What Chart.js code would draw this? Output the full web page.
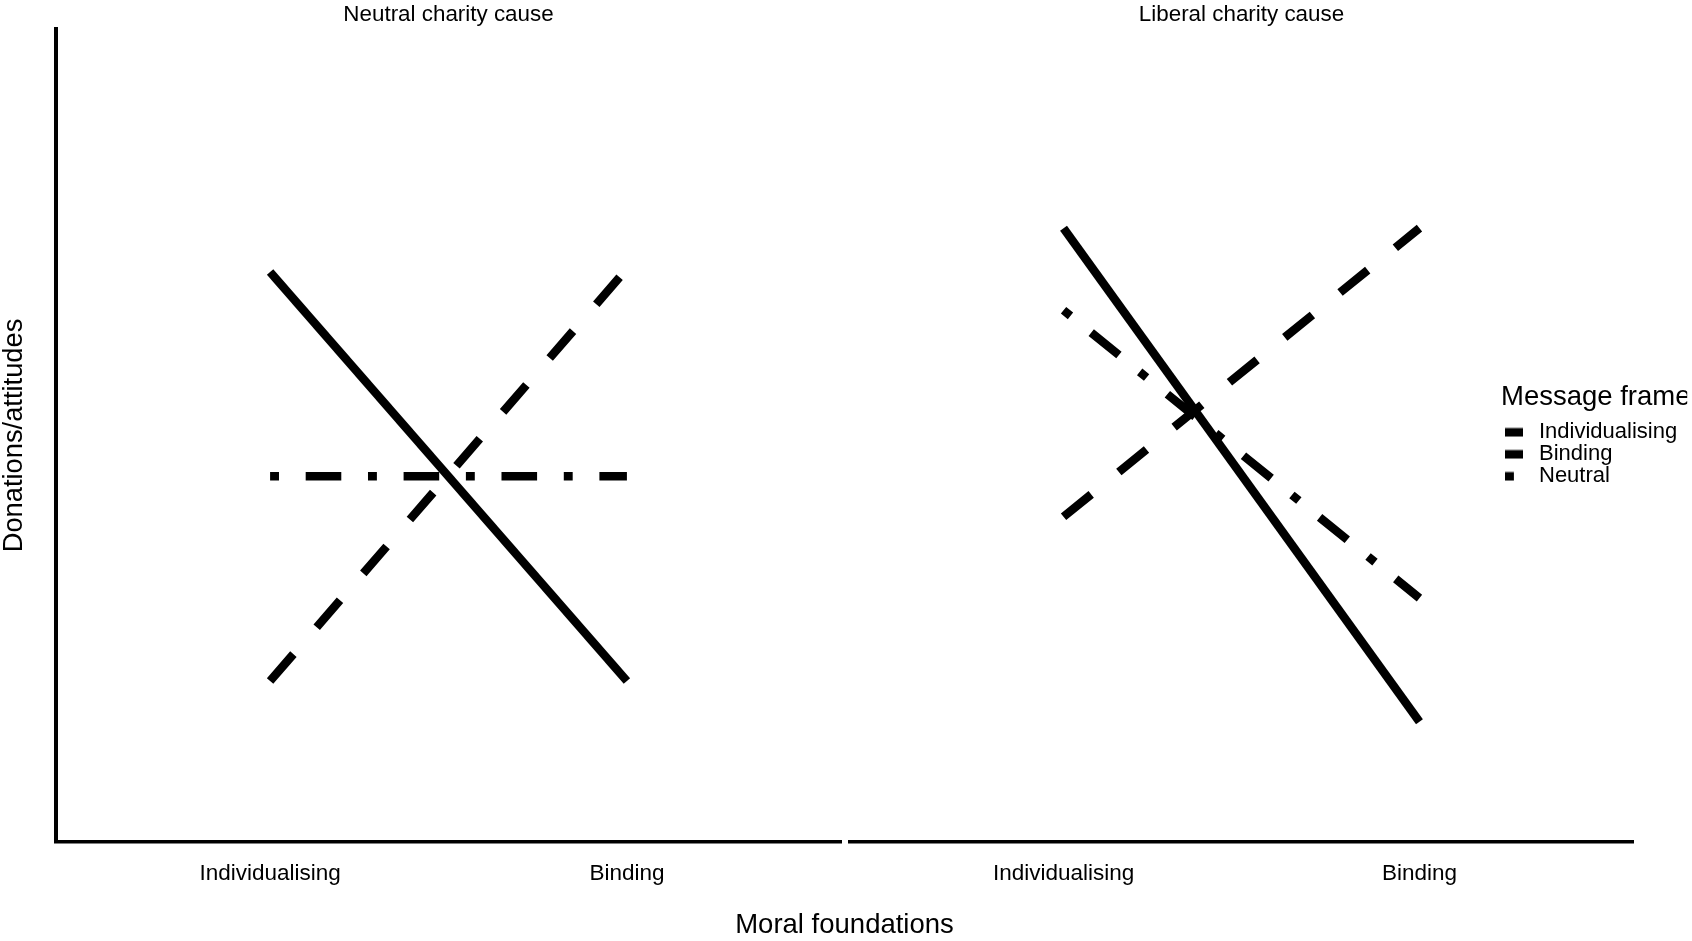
<!DOCTYPE html>
<html>
<head>
<meta charset="utf-8">
<title>Moral foundations by message frame</title>
<script src="https://cdn.jsdelivr.net/npm/chart.js@4.4.1/dist/chart.umd.min.js"></script>
<style>
  html, body { margin: 0; padding: 0; background: #fff; }
  #wrap { position: relative; width: 1692px; height: 941px; }
</style>
</head>
<body>
<div id="wrap"><canvas id="facetChart"></canvas></div>
<script>
// data (arbitrary 0-100 units, no y ticks in the original)
const xLabels = ['Individualising', 'Binding'];
const frames = ['Individualising', 'Binding', 'Neutral'];
const panels = ['Neutral charity cause', 'Liberal charity cause'];

const neutralIndividualising = [70.1, 19.8];
const neutralBinding = [19.8, 70.5];
const neutralNeutral = [45.0, 45.0];

const liberalIndividualising = [75.5, 14.8];
const liberalBinding = [40.0, 75.5];
const liberalNeutral = [65.4, 30.0];

const panelSeries = [
  [neutralIndividualising, neutralBinding, neutralNeutral],
  [liberalIndividualising, liberalBinding, liberalNeutral]
];

// line styles (ggplot solid / dashed / dotdash, butt caps)
const lineW = 8.5;
const unit = 8.9;
const frameDash = [[], [4 * unit, 4 * unit], [unit, 3 * unit, 4 * unit, 3 * unit]];
const font = "'Liberation Sans', Arial, Helvetica, sans-serif";

Chart.defaults.font.family = font;
Chart.defaults.color = '#000';

// small legend keys, drawn with the same dash pattern as the lines
const keyImages = frameDash.map(dash => {
  const c = document.createElement('canvas');
  c.width = 27;
  c.height = 10;
  const k = c.getContext('2d');
  k.strokeStyle = '#000';
  k.lineWidth = lineW;
  k.lineCap = 'butt';
  k.setLineDash(dash);
  k.beginPath();
  k.moveTo(4, 5);
  k.lineTo(22, 5);
  k.stroke();
  return c;
});

const panelAxes = ['xL', 'xR'];
const datasets = [];
panelSeries.forEach((series, p) => {
  series.forEach((vals, i) => {
    datasets.push({
      label: frames[i],
      data: vals.map((v, j) => ({ x: j, y: v })),
      xAxisID: panelAxes[p],
      yAxisID: 'y',
      borderColor: '#000',
      borderWidth: lineW,
      borderDash: frameDash[i],
      borderCapStyle: 'butt',
      pointRadius: 0,
      fill: false,
      tension: 0
    });
  });
});

const noGrid = { display: false, drawTicks: false };

const panelAxis = (weight) => ({
  type: 'linear',
  position: 'bottom',
  stack: 'panels',
  stackWeight: weight,
  min: -0.6,
  max: 1.6,
  grid: noGrid,
  border: { display: true, color: '#000', width: 3.5 },
  afterBuildTicks: scale => { scale.ticks = xLabels.map((_, i) => ({ value: i })); },
  ticks: {
    padding: 18,
    font: { size: 22.5 },
    color: '#000',
    callback: v => xLabels[v]
  }
});

const stripAxis = (weight, text) => ({
  type: 'linear',
  position: 'top',
  stack: 'strips',
  stackWeight: weight,
  min: 0,
  max: 1,
  grid: noGrid,
  border: { display: false },
  ticks: { display: false },
  title: {
    display: true,
    text: text,
    color: '#000',
    font: { size: 22.4 },
    padding: { top: 1.6, bottom: 0.5 }
  }
});

const gapAxis = (position, stack) => ({
  type: 'linear',
  position: position,
  stack: stack,
  stackWeight: 9,
  min: 0,
  max: 1,
  grid: noGrid,
  border: { display: false },
  ticks: { display: false }
});

// legend sits over the right panel, like the original
const legendLeft = 1501;
const legendInside = {
  id: 'legendInside',
  afterLayout(chart) {
    const lg = chart.legend;
    const w = lg.width;
    lg.left = legendLeft;
    lg.right = legendLeft + w;
    lg.top = chart.chartArea.top;
    lg.bottom = chart.chartArea.bottom;
  }
};

new Chart(document.getElementById('facetChart'), {
  type: 'line',
  data: { datasets },
  plugins: [legendInside],
  options: {
    responsive: true,
    maintainAspectRatio: false,
    animation: false,
    events: [],
    layout: { padding: { left: 0, right: 59, top: 0, bottom: 0 } },
    scales: {
      y: {
        type: 'linear',
        position: 'left',
        min: 0,
        max: 100,
        grid: noGrid,
        border: { display: true, color: '#000', width: 4 },
        ticks: { display: false },
        afterFit: scale => { scale.width = 56; },
        title: {
          display: true,
          text: 'Donations/attitudes',
          color: '#000',
          font: { size: 27.3, lineHeight: 1 },
          padding: { top: 1, bottom: 0 }
        }
      },
      xL: panelAxis(785),
      xGap: gapAxis('bottom', 'panels'),
      xR: panelAxis(783),
      // top boxes are laid out in reverse order
      tR: stripAxis(783, panels[1]),
      tGap: gapAxis('top', 'strips'),
      tL: stripAxis(785, panels[0])
    },
    plugins: {
      tooltip: { enabled: false },
      title: {
        display: true,
        text: 'Moral foundations',
        position: 'bottom',
        fullSize: false,
        color: '#000',
        font: { size: 27.5, weight: 'normal', lineHeight: 1.1 },
        padding: { top: 5.75, bottom: 0 }
      },
      legend: {
        position: 'chartArea',
        align: 'center',
        title: {
          display: true,
          text: 'Message frame',
          position: 'start',
          color: '#000',
          font: { size: 27.5 },
          padding: { top: 0, bottom: 4.75 }
        },
        labels: {
          usePointStyle: true,
          pointStyleWidth: 27,
          padding: 0,
          color: '#000',
          font: { size: 22 },
          generateLabels: () => frames.map((f, i) => ({
            text: f,
            pointStyle: keyImages[i],
            datasetIndex: i,
            hidden: false,
            lineWidth: 0,
            fillStyle: 'transparent',
            strokeStyle: 'transparent'
          }))
        }
      }
    }
  }
});
</script>
</body>
</html>
